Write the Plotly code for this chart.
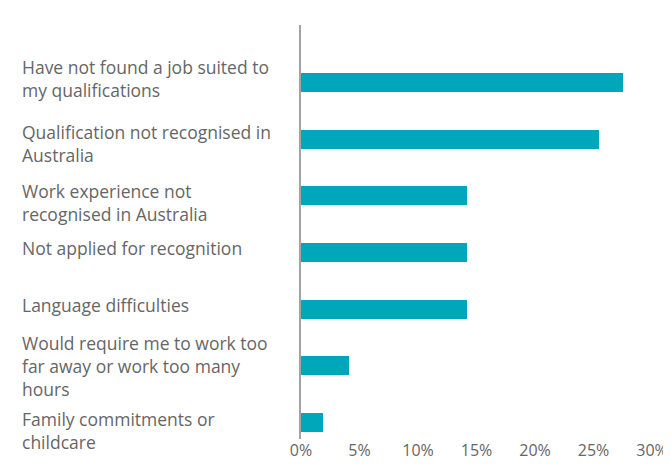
import plotly.graph_objects as go

# data
reasons = [
    "Have not found a job suited to<br>my qualifications",
    "Qualification not recognised in<br>Australia",
    "Work experience not<br>recognised in Australia",
    "Not applied for recognition",
    "Language difficulties",
    "Would require me to work too<br>far away or work too many<br>hours",
    "Family commitments or<br>childcare",
]
shares = [27.5, 25.5, 14.2, 14.2, 14.2, 4.1, 1.9]
x_ticks = [0, 5, 10, 15, 20, 25, 30]

BAR_COLOR  = "#00a6b9"
TEXT_COLOR = "#666666"
AXIS_COLOR = "#a3a3a3"
FONT       = "Open Sans"

# the page body keeps its default 8px margin, so the figure is drawn 8px in
PAGE_PAD = 8
W, H = 671 - PAGE_PAD, 466 - PAGE_PAD
M_L, M_R, M_T, M_B = 301 - PAGE_PAD, 19, 25 - PAGE_PAD, 27
PLOT_W = W - M_L - M_R
LABEL_X = 20 - PAGE_PAD

positions = list(range(len(reasons)))

fig = go.Figure(go.Bar(
    x=shares,
    y=positions,
    orientation="h",
    width=0.335,
    marker=dict(color=BAR_COLOR, line=dict(width=0)),
    hoverinfo="x",
))

# small vertical nudges so the wrapped labels sit like the original
label_shift = [4, -4, -7, 5, 4, 0, -8]
for pos, text, dy in zip(positions, reasons, label_shift):
    fig.add_annotation(
        x=(LABEL_X - M_L) / PLOT_W, xref="paper",
        y=pos, yref="y",
        text=text, showarrow=False,
        xanchor="left", yanchor="middle", align="left",
        yshift=dy,
        font=dict(family=FONT, size=17.5, color=TEXT_COLOR),
    )

fig.update_layout(
    width=W, height=H,
    margin=dict(l=M_L, r=M_R, t=M_T, b=M_B),
    plot_bgcolor="white",
    paper_bgcolor="white",
    showlegend=False,
    bargap=0,
    xaxis=dict(
        range=[0, 30],
        tickvals=x_ticks,
        ticktext=[f"{v}%" for v in x_ticks],
        showgrid=False,
        zeroline=False,
        showline=False,
        ticks="",
        automargin=False,
        tickfont=dict(family=FONT, size=16, color=TEXT_COLOR),
    ),
    yaxis=dict(
        range=[6.29, -1.015],
        showticklabels=False,
        showgrid=False,
        zeroline=False,
        showline=True,
        linecolor=AXIS_COLOR,
        linewidth=2,
        ticks="",
        automargin=False,
    ),
)

fig.write_html("out.html")
